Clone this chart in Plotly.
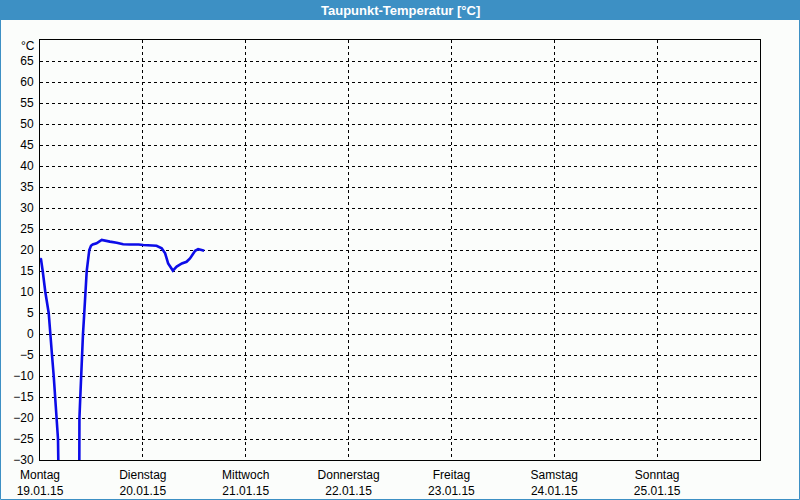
import plotly.graph_objects as go

# hours since Monday 19.01.15 00:00
hours = [0.0, 0.23, 0.63, 1.24, 2.03, 2.5, 2.8, 3.2, 3.5, 3.8, 4.2, 4.27, 4.5,
         9.0, 9.15, 9.2, 9.4, 9.57, 9.87, 10.03, 10.33, 10.66, 10.9, 11.5, 11.9,
         12.3, 13.2, 14.4, 15.2, 16.3, 17.9, 19.4, 21.0, 22.2, 23.0, 24.1, 25.7,
         27.2, 28.4, 29.2, 29.9, 31.0, 31.9, 33.1, 34.2, 35.0, 36.2, 36.9, 37.7, 38.3]
dewpoint = [18.0, 17.8, 15.0, 10.0, 5.0, 0.0, -5.0, -10.0, -15.0, -20.0, -25.0, -30.0, -99.0,
            -99.0, -25.0, -20.0, -15.0, -10.0, -5.0, 0.0, 5.0, 10.0, 15.0, 20.0, 21.0,
            21.3, 21.6, 22.4, 22.3, 22.0, 21.75, 21.35, 21.3, 21.4, 21.3, 21.2, 21.1,
            21.0, 20.4, 19.2, 16.8, 15.1, 16.05, 16.8, 17.2, 18.0, 19.8, 20.2, 20.0, 19.8]

day_names = ["Montag", "Dienstag", "Mittwoch", "Donnerstag", "Freitag", "Samstag", "Sonntag"]
day_dates = ["19.01.15", "20.01.15", "21.01.15", "22.01.15", "23.01.15", "24.01.15", "25.01.15"]
day_hours = [0, 24, 48, 72, 96, 120, 144]
y_ticks = list(range(-30, 70, 5))

W, H = 800, 500
ML, MR, MT, MB = 40, 40, 40, 40
PW, PH = W - ML - MR, H - MT - MB

def px_x(px):
    return (px - ML) / PW

def px_y(py):
    return 1 - (py - MT) / PH

font = "Liberation Sans"

fig = go.Figure()
fig.add_trace(go.Scatter(x=hours, y=dewpoint, mode="lines",
                         line=dict(color="#0c0ce8", width=2.6), hoverinfo="skip"))

fig.update_layout(
    width=W, height=H,
    margin=dict(l=ML, r=MR, t=MT, b=MB, autoexpand=False),
    paper_bgcolor="#fbfdfb", plot_bgcolor="#fbfdfb",
    showlegend=False,
    font=dict(family=font, size=12, color="#000000"),
    xaxis=dict(range=[0, 168], tickvals=day_hours,
               ticktext=[f"{n}<br>{d}" for n, d in zip(day_names, day_dates)],
               showgrid=True, gridcolor="#000000", griddash="3px,3px", gridwidth=1,
               showline=True, linecolor="#000000", linewidth=1, mirror=True,
               ticks="", zeroline=False, ticklabelstandoff=4, automargin=False,
               fixedrange=True),
    yaxis=dict(range=[-30, 70], tickvals=y_ticks,
               showgrid=True, gridcolor="#000000", griddash="3px,3px", gridwidth=1,
               showline=True, linecolor="#000000", linewidth=1, mirror=True,
               ticks="", zeroline=False, ticklabelstandoff=3, automargin=False,
               fixedrange=True),
    shapes=[
        dict(type="rect", xref="paper", yref="paper",
             x0=px_x(0), x1=px_x(W), y0=px_y(20), y1=px_y(0),
             fillcolor="#3d90c4", line=dict(width=0), layer="above"),
        dict(type="rect", xref="paper", yref="paper",
             x0=px_x(0.5), x1=px_x(W - 0.5), y0=px_y(H - 0.5), y1=px_y(0.5),
             fillcolor="rgba(0,0,0,0)", line=dict(color="#3d90c4", width=1), layer="above"),
    ],
    annotations=[
        dict(text="<b>Taupunkt-Temperatur [°C]</b>", xref="paper", yref="paper",
             x=px_x(400), y=px_y(10), showarrow=False, xanchor="center", yanchor="middle",
             font=dict(family=font, size=13, color="#ffffff")),
        dict(text="°C", xref="paper", yref="paper",
             x=px_x(37), y=px_y(46), showarrow=False, xanchor="right", yanchor="middle",
             font=dict(family=font, size=12, color="#000000")),
    ],
)

fig.write_html("out.html")
